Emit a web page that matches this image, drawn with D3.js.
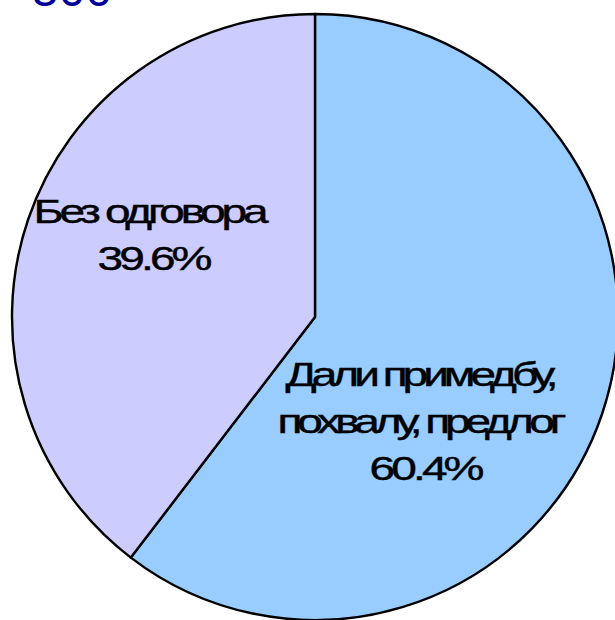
<!DOCTYPE html>
<html>
<head>
<meta charset="utf-8">
<script src="https://cdn.jsdelivr.net/npm/d3@7"></script>
<style>
  body { margin: 0; background: #fff; }
  svg { display: block; }
  text { font-family: "Liberation Sans", Arial, sans-serif; }
</style>
</head>
<body>
<script>
"use strict";

// data
const categories = ["Дали примедбу, похвалу, предлог", "Без одговора"];
const values = [60.4, 39.6];
const labelLines = [
  ["Дали примедбу,", "похвалу, предлог", "60.4%"],
  ["Без одговора", "39.6%"]
];
const colors = ["#99ccff", "#ccccff"];
const sampleLabel = "500";

const width = 615, height = 620;
const cx = 315, cy = 317, radius = 303;

// label layout: centre of each text block and the width of each line
const labelLayout = [
  { x: 422, y: 386, widths: [273, 289, 115], dx: [0, 0, 5] },
  { x: 151, y: 223, widths: [235, 115], dx: [0, 4] }
];
const lineGap = 47;

const svg = d3.select("body").append("svg")
  .attr("width", width)
  .attr("height", height);

// partially visible title at the top
svg.append("text")
  .attr("x", 32)
  .attr("y", 5.5)
  .attr("font-size", 48)
  .attr("fill", "#000099")
  .text(sampleLabel);

const pie = d3.pie().sort(null).value(d => d);
const arc = d3.arc().innerRadius(0).outerRadius(radius);

const g = svg.append("g")
  .attr("transform", `translate(${cx},${cy})`);

g.selectAll("path.slice")
  .data(pie(values))
  .enter()
  .append("path")
  .attr("class", "slice")
  .attr("d", arc)
  .attr("fill", (d, i) => colors[i])
  .attr("stroke", "#000")
  .attr("stroke-width", 2.4)
  .attr("stroke-linejoin", "round");

// labels: wide glyphs, squashed vertically, tight spacing (like the original)
const lab = svg.append("g");
labelLines.forEach((lines, i) => {
  const L = labelLayout[i];
  lines.forEach((t, j) => {
    lab.append("g")
      .attr("transform", `translate(${L.x + L.dx[j]},${L.y + j * lineGap}) scale(1,0.74)`)
      .append("text")
      .attr("text-anchor", "middle")
      .attr("font-size", 46)
      .attr("fill", "#000")
      .attr("stroke", "#000")
      .attr("stroke-width", 0.6)
      .attr("textLength", L.widths[j])
      .attr("lengthAdjust", "spacing")
      .text(t);
  });
});
</script>
</body>
</html>
